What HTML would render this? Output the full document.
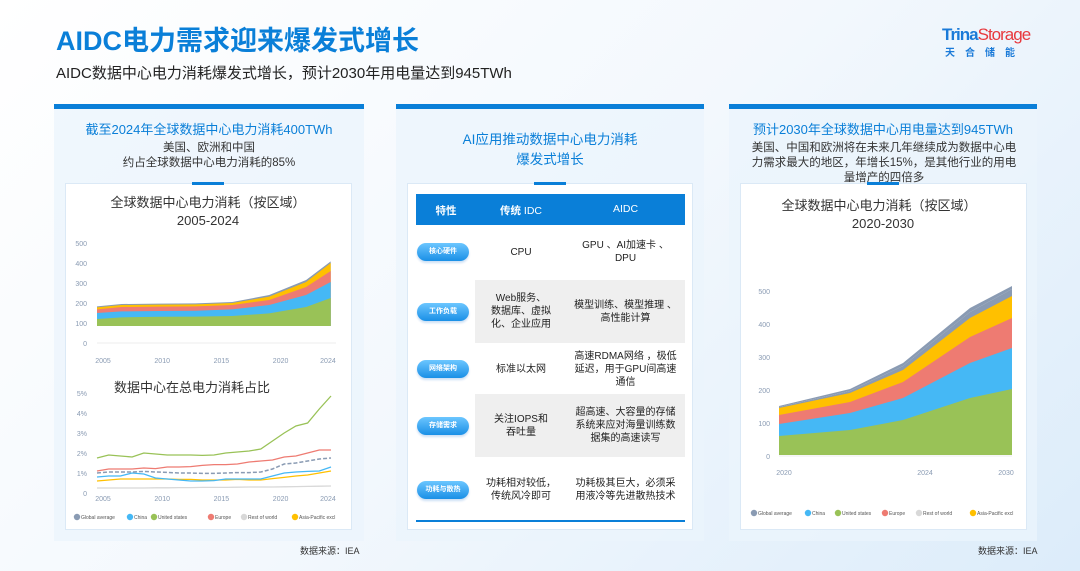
<!DOCTYPE html>
<html><head><meta charset="utf-8">
<style>
*{margin:0;padding:0;box-sizing:border-box}
body{width:1080px;height:571px;overflow:hidden;font-family:"Liberation Sans","Noto Sans CJK SC",sans-serif;background:linear-gradient(135deg,#ffffff 0%,#f3f8fd 50%,#dcecfa 100%);position:relative;color:#333}
.abs{position:absolute}
.card{position:absolute;top:104px;height:437px;background:rgba(235,244,252,0.75);border-top:5px solid #0a7fd8}
.panel{position:absolute;top:183px;height:347px;background:#fff;border:1px solid #dbe9f6}
.tick{position:absolute;width:32px;height:3px;background:#0a7fd8}
.ct{position:absolute;text-align:center;font-size:13px;color:#0a7fd8}
.cs{position:absolute;text-align:center;font-size:11.5px;color:#333;line-height:15px}
.pill{position:absolute;left:417px;width:52px;height:18px;border-radius:9px;background:linear-gradient(#6cc6ff,#1a8fe6);color:#fff;font-size:7px;text-align:center;line-height:18px;font-weight:bold;box-shadow:0 2px 2px rgba(0,100,200,0.2)}
.cell{position:absolute;font-size:10px;text-align:center;line-height:13px;color:#222;display:flex;align-items:center;justify-content:center}
.gray{position:absolute;left:475px;width:210px;background:#efefef}
</style></head><body>
<div class="abs" style="left:56px;top:19px;font-size:27px;font-weight:bold;color:#0a7fd8;letter-spacing:0px">AIDC电力需求迎来爆发式增长</div>
<div class="abs" style="left:56px;top:62px;font-size:15px;color:#222">AIDC数据中心电力消耗爆发式增长，预计2030年用电量达到945TWh</div>
<div class="abs" style="left:942px;top:25px;font-size:17px;font-weight:bold;color:#1a7ad8;letter-spacing:-1px">Trina<span style="color:#e8383d;font-weight:normal">Storage</span></div>
<div class="abs" style="left:945px;top:44px;font-size:10px;color:#1a7ad8;letter-spacing:10px;font-weight:bold">天合储能</div>

<div class="card" style="left:54px;width:310px"></div>
<div class="card" style="left:396px;width:308px"></div>
<div class="card" style="left:729px;width:308px"></div>

<div class="ct" style="left:54px;width:310px;top:119px">截至2024年全球数据中心电力消耗400TWh</div>
<div class="cs" style="left:54px;width:310px;top:141px">美国、欧洲和中国<br>约占全球数据中心电力消耗的85%</div>
<div class="ct" style="left:396px;width:308px;top:130px;line-height:20px;font-size:13.5px">AI应用推动数据中心电力消耗<br>爆发式增长</div>
<div class="ct" style="left:729px;width:308px;top:119px">预计2030年全球数据中心用电量达到945TWh</div>
<div class="cs" style="left:748px;width:272px;top:141px">美国、中国和欧洲将在未来几年继续成为数据中心电力需求最大的地区，年增长15%，是其他行业的用电量增产的四倍多</div>

<div class="panel" style="left:65px;width:287px"></div>
<div class="panel" style="left:407px;width:286px"></div>
<div class="panel" style="left:740px;width:287px"></div>
<div class="tick" style="left:192px;top:182px"></div>
<div class="tick" style="left:534px;top:182px"></div>
<div class="tick" style="left:867px;top:182px"></div>

<svg class="abs" style="left:0;top:0" width="1080" height="571" id="sv" font-family="Liberation Sans, Noto Sans CJK SC, sans-serif"></svg>

<div class="abs" style="left:416px;top:194px;width:269px;height:31px;background:#0a7fd8"></div>
<div class="abs" style="left:416px;top:203px;width:60px;text-align:center;color:#fff;font-size:10.5px;font-weight:bold">特性</div>
<div class="abs" style="left:476px;top:203px;width:90px;text-align:center;color:#fff;font-size:10.5px;font-weight:bold">传统 <span style="font-weight:normal">IDC</span></div>
<div class="abs" style="left:566px;top:203px;width:119px;text-align:center;color:#fff;font-size:10.5px">AIDC</div>
<div class="gray" style="top:280px;height:63px"></div>
<div class="gray" style="top:394px;height:63px"></div>
<div class="abs" style="left:416px;top:520px;width:269px;height:2px;background:#0a7fd8"></div>

<div class="pill" style="top:243px">核心硬件</div>
<div class="pill" style="top:303px">工作负载</div>
<div class="pill" style="top:360px">网络架构</div>
<div class="pill" style="top:417px">存储需求</div>
<div class="pill" style="top:481px">功耗与散热</div>

<div class="cell" style="left:476px;width:90px;top:232px;height:40px">CPU</div>
<div class="cell" style="left:570px;width:111px;top:232px;height:40px">GPU 、AI加速卡 、<br>DPU</div>
<div class="cell" style="left:476px;width:90px;top:280px;height:63px">Web服务、<br>数据库、虚拟<br>化、企业应用</div>
<div class="cell" style="left:570px;width:111px;top:280px;height:63px">模型训练、模型推理 、<br>高性能计算</div>
<div class="cell" style="left:476px;width:90px;top:345px;height:48px">标准以太网</div>
<div class="cell" style="left:570px;width:111px;top:345px;height:48px">高速RDMA网络 ，极低<br>延迟，用于GPU间高速<br>通信</div>
<div class="cell" style="left:476px;width:90px;top:394px;height:63px">关注IOPS和<br>吞吐量</div>
<div class="cell" style="left:570px;width:111px;top:394px;height:63px">超高速、大容量的存储<br>系统来应对海量训练数<br>据集的高速读写</div>
<div class="cell" style="left:476px;width:90px;top:470px;height:40px">功耗相对较低，<br>传统风冷即可</div>
<div class="cell" style="left:570px;width:111px;top:470px;height:40px">功耗极其巨大，必须采<br>用液冷等先进散热技术</div>

<div class="abs" style="left:300px;top:544px;font-size:9px;color:#333">数据来源：IEA</div>
<div class="abs" style="left:978px;top:544px;font-size:9px;color:#333">数据来源：IEA</div>

<script>
const sv=document.getElementById('sv');let h='';
const C={g:'#8a9bb3',c:'#45b8f5',u:'#99c257',e:'#ee7b72',r:'#d8d8d8',a:'#ffc000'};
function T(x,y,s,sz,col,anc,extra){h+=`<text x="${x}" y="${y}" font-size="${sz}" fill="${col}" text-anchor="${anc||'start'}" ${extra||''}>${s}</text>`;}
T(208,207,'全球数据中心电力消耗（按区域）',13,'#333','middle');
T(208,225,'2005-2024',13,'#333','middle');
[0,100,200,300,400,500].forEach(v=>T(87,343-v*0.2+3,v,7,'#8a9bb3','end'));
[2005,2010,2015,2020,2024].forEach(y=>T(103+(y-2005)*11.84,363,y,7,'#8a9bb3','middle'));
const lx=[2005,2007,2010,2013,2016,2019,2022,2024].map(y=>97+(y-2005)*12.3);
const L=[[120,128,131,132,135,148,180,225],[150,158,160,161,168,190,240,305],[168,180,182,183,190,215,280,360],[178,190,192,193,200,232,305,400],[183,195,197,198,205,240,315,408]];
const lc=[C.u,C.c,C.e,C.a,C.g];
for(let k=4;k>=0;k--){let d=`M${lx[0]},326`;lx.forEach((x,i)=>d+=` L${x},${343-L[k][i]*0.2}`);d+=` L${lx[lx.length-1]},326 Z`;h+=`<path d="${d}" fill="${lc[k]}"/>`;}
h+=`<line x1="97" y1="343" x2="336" y2="343" stroke="#eee"/>`;
T(192,392,'数据中心在总电力消耗占比',13,'#333','middle');
['0','1%','2%','3%','4%','5%'].forEach((s,i)=>T(87,493-i*20+3,s,7,'#8a9bb3','end'));
[2005,2010,2015,2020,2024].forEach(y=>T(103+(y-2005)*11.84,501,y,7,'#8a9bb3','middle'));
const S={u:[1.75,1.9,1.85,1.8,2.0,1.95,1.9,1.9,1.9,1.88,1.9,2.0,2.05,2.1,2.2,2.6,3.0,3.35,3.5,4.2,4.85],
e:[1.1,1.2,1.2,1.2,1.25,1.22,1.3,1.3,1.32,1.38,1.42,1.42,1.45,1.55,1.6,1.65,1.8,1.85,2.0,2.15,2.15],
g:[1.0,1.05,1.05,1.05,1.08,1.05,1.03,1.0,1.0,0.98,0.98,1.0,1.02,1.02,1.05,1.2,1.45,1.5,1.6,1.7,1.75],
c:[0.8,0.85,0.85,1.0,0.95,0.75,0.7,0.65,0.6,0.6,0.62,0.7,0.7,0.7,0.7,0.85,1.0,1.05,1.08,1.1,1.3],
a:[0.6,0.65,0.7,0.7,0.7,0.7,0.7,0.68,0.68,0.65,0.65,0.65,0.68,0.65,0.65,0.72,0.78,0.85,0.9,1.0,1.1],
r:[0.25,0.25,0.25,0.25,0.25,0.26,0.26,0.27,0.27,0.28,0.28,0.28,0.29,0.3,0.3,0.3,0.31,0.32,0.33,0.34,0.35]};
['r','a','c','g','e','u'].forEach(k=>{let p=S[k].map((v,i)=>`${97+i*11.7},${493-v*20}`).join(' ');h+=`<polyline points="${p}" fill="none" stroke="${C[k]}" stroke-width="${k=='g'?1.5:1.3}" ${k=='g'?'stroke-dasharray="4,2"':''}/>`;});
function legend(x0,y,xs){const n=['Global average','China','United states','Europe','Rest of world','Asia-Pacific excl'],k=['g','c','u','e','r','a'];xs.forEach((x,i)=>{h+=`<circle cx="${x0+x}" cy="${y}" r="3.2" fill="${C[k[i]]}"/>`;T(x0+x+4,y+2,n[i],5,'#555');});}
legend(0,517,[77,130,154,211,244,295]);
T(879,210,'全球数据中心电力消耗（按区域）',13,'#333','middle');
T(883,228,'2020-2030',13,'#333','middle');
[0,100,200,300,400,500].forEach(v=>T(770,456-v*0.33+3,v,7,'#8a9bb3','end'));
T(784,475,'2020',7,'#8a9bb3','middle');T(925,475,'2024',7,'#8a9bb3','middle');T(1006,475,'2030',7,'#8a9bb3','middle');
const rx=[779,850,903,970,1012];
const R=[[436,430,420,398,389],[424,413,398,363,348],[415,402,382,337,318],[408,393,370,318,296],[407,391,366,312,289]];
for(let k=4;k>=0;k--){let d=`M779,455`;rx.forEach((x,i)=>d+=` L${x},${R[k][i]}`);d+=` L1012,455 Z`;h+=`<path d="${d}" fill="${lc[k]}"/>`;}
h+=`<path d="M779,406 L850,389 L903,363 L970,308 L1012,286 L1012,289 L970,312 L903,366 L850,391 L779,407 Z" fill="${C.g}"/>`;
h+=`<line x1="779" y1="456" x2="1012" y2="456" stroke="#eee"/>`;
legend(0,513,[754,808,838,885,919,973]);
sv.innerHTML=h;
</script>
</body></html>
